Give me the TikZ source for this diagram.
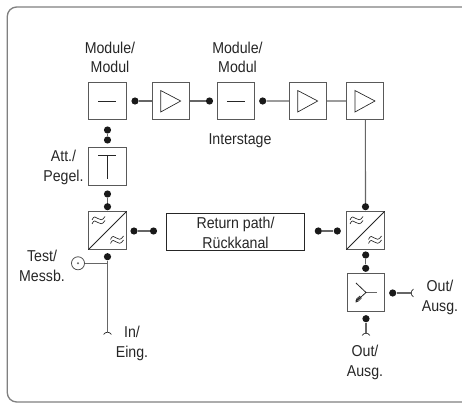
\documentclass[tikz,border=0pt]{standalone}
\usepackage{fontspec}
\setmainfont[FakeStretch=0.9]{Liberation Sans}
\tikzset{
  box/.style={draw=black!65,line width=0.8pt,minimum size=28pt,inner sep=0pt},
  dot/.style={circle,fill=black!90,minimum size=5.4pt,inner sep=0pt},
  wire/.style={draw=black!60,line width=0.85pt},
  sym/.style={draw=black!85,line width=0.5pt},
  txt/.style={font=\fontsize{11.8pt}{14.7pt}\selectfont,align=center,text=black!85,inner sep=0pt},
  pics/minussym/.style={code={\draw[sym] (-9,0) -- (9,0);}},
  pics/ampsym/.style={code={\draw[sym] (-10.3,-10.5) -- (-10.3,11) -- (9.7,0) -- cycle;}},
  pics/attsym/.style={code={\draw[sym] (-9,-11.5) -- (9,-11.5) (0,-11.5) -- (0,12.5);}},
  pics/tildesym/.style={code={
    \draw[sym] (-6.5,-1) .. controls (-3,-10) and (1,5) .. (6.5,-4.5);
    \draw[sym] (-6.5,3) .. controls (-3,-6) and (1,9) .. (6.5,-0.5);}},
  pics/splitsym/.style={code={
    \draw[black!60,line width=0.85pt] (0,0) -- (11,0);
    \draw[sym,line width=0.6pt] (-10,-9.5) -- (0,0) -- (-5,4.5);
    \draw[sym,line width=1pt] (-5,4.5) -- (-10,8.5);
    \draw[sym] (-4.5,5.5) -- (-7.5,8.5) -- (-10,9.5) -- (-9.5,6.5) -- (-6,3.5);}},
  pics/cupdown/.style={code={\draw[sym] (-4,2.5) .. controls (-2,-0.5) and (2,-0.5) .. (4,2.5);}},
  pics/cupright/.style={code={\draw[sym] (2.5,-4) .. controls (-0.5,-2) and (-0.5,2) .. (2.5,4);}}
}
\begin{document}
\begin{tikzpicture}[x=0.75pt,y=-0.75pt]
  \useasboundingbox (0,0) rectangle (462,403);
  % frame
  \draw[black!50,line width=1pt,rounded corners=7pt] (470,7) -- (7.3,7) -- (7.3,402) -- (470,402);

  % upper row
  \node[box] (M1) at (107.5,101) {};
  \node[box] (A1) at (171,101) {};
  \node[box] (M2) at (236,101) {};
  \node[box] (A2) at (308,101) {};
  \node[box] (A3) at (365.3,101) {};
  \node[box] (Att) at (107.5,166.5) {};

  % lower row
  \node[box] (C1) at (107.5,230.5) {};
  \node[box] (C2) at (365.5,230.5) {};
  \node[box] (Sp) at (366,292.5) {};
  \node[draw=black!85,line width=0.7pt,minimum width=104pt,minimum height=28pt,inner sep=0pt] (R) at (235.5,232) {};

  % contacts
  \node[dot] (a) at (135,101) {};
  \node[dot] (b) at (209.5,101) {};
  \node[dot] (c) at (262.7,101) {};
  \node[dot] (d) at (107.5,130) {};
  \node[dot] (e) at (107.5,140) {};
  \node[dot] (f) at (107.5,194) {};
  \node[dot] (g) at (107.5,206.7) {};
  \node[dot] (h) at (134,231) {};
  \node[dot] (i) at (153.5,231) {};
  \node[dot] (j) at (318.3,231) {};
  \node[dot] (k) at (337.3,231) {};
  \node[dot] (l) at (365.5,206.7) {};
  \node[dot] (m) at (365.7,255) {};
  \node[dot] (n) at (365.7,268.3) {};
  \node[dot] (o) at (366,318.7) {};
  \node[dot] (p) at (392.7,293) {};
  \node[dot] (q) at (107.5,256.7) {};

  % free ends
  \coordinate (InE) at (107.5,332);
  \coordinate (OutB) at (366,333);
  \coordinate (OutR) at (411,293);
  \coordinate (Tee) at (107.5,263.3);
  \node[circle,draw=black!70,line width=0.6pt,minimum size=9.8pt,inner sep=0pt] (Tst) at (78,263.3) {};
  \node[circle,fill=black!60,minimum size=1.8pt,inner sep=0pt] (TstC) at (78,263.3) {};

  \draw[wire] (a) -- (A1) -- (b);
  \draw[wire] (c) -- (A2) -- (A3) -- (l);
  \draw[wire] (d) -- (e);
  \draw[wire] (f) -- (g);
  \draw[wire] (h) -- (i);
  \draw[wire] (j) -- (k);
  \draw[wire] (m) -- (n);
  \draw[wire] (o) -- (OutB);
  \draw[wire] (p) -- (OutR);
  \draw[wire] (q) -- (InE);
  \draw[wire] (Tst) -- (Tee);

  % symbols
  \pic at (M1) {minussym};
  \pic at (M2) {minussym};
  \pic at (A1) {ampsym};
  \pic at (A2) {ampsym};
  \pic at (A3) {ampsym};
  \pic at (Att) {attsym};
  \pic at (Sp) {splitsym};
  \foreach \c in {C1,C2} {
    \draw[sym,line width=0.6pt] (\c.south west) -- (\c.north east);
    \pic at ([shift={(-9,-9.5)}]\c.center) {tildesym};
    \pic at ([shift={(9.5,10)}]\c.center) {tildesym};
  }
  \pic at (InE) {cupdown};
  \pic at (OutB) {cupdown};
  \pic at (OutR) {cupright};

  % labels
  \node[txt] (lM1) at (110,57.5) {Module/\\Modul};
  \node[txt] (lM2) at (237.5,57.5) {Module/\\Modul};
  \node[txt] (lI) at (240,141) {Interstage};
  \node[txt] (lA) at (63.5,167.5) {Att./\\Pegel.};
  \node[txt] (lR) at (235.5,233) {Return path/\\Rückkanal};
  \node[txt] (lT) at (42,266) {Test/\\Messb.};
  \node[txt] (lIn) at (132,343.5) {In/\\Eing.};
  \node[txt] (lO1) at (440,297.5) {Out/\\Ausg.};
  \node[txt] (lO2) at (365,362.5) {Out/\\Ausg.};
\end{tikzpicture}
\end{document}
